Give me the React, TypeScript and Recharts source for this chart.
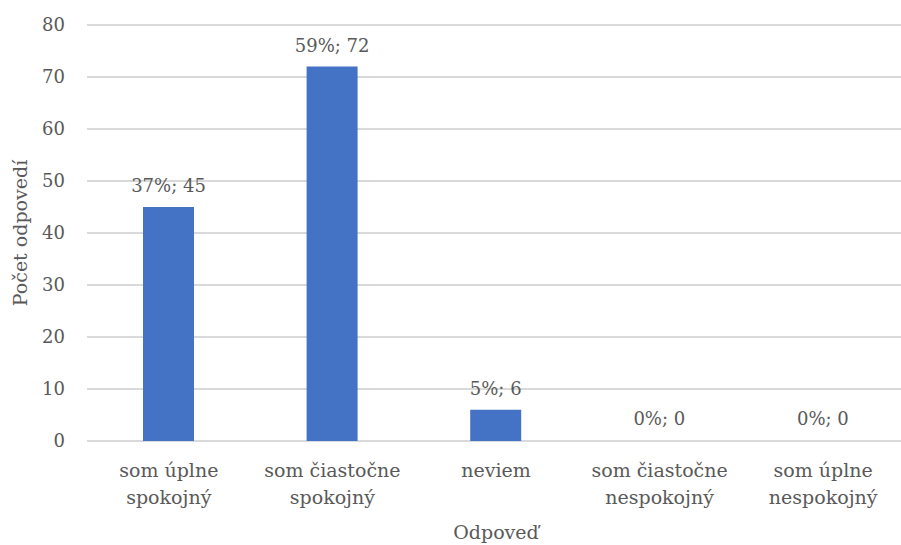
import { BarChart, Bar, XAxis, YAxis, CartesianGrid, LabelList, Rectangle } from "recharts";

const categories = [
    "som úplne spokojný",
    "som čiastočne spokojný",
    "neviem",
    "som čiastočne nespokojný",
    "som úplne nespokojný",
];
const counts = [45, 72, 6, 0, 0];
const percents = [37, 59, 5, 0, 0];
const yTicks = [0, 10, 20, 30, 40, 50, 60, 70, 80];

const data = categories.map((name, i) => ({
    name,
    value: counts[i],
    label: `${percents[i]}%; ${counts[i]}`,
}));

const FONT = "'DejaVu Serif', serif";
const TEXT = "#595959";

function CategoryTick(props: any) {
    const { x, y, payload } = props;
    const text: string = payload.value;
    const cut = text.lastIndexOf(" ");
    const lines = cut > 0 ? [text.slice(0, cut), text.slice(cut + 1)] : [text];
    return (
        <text x={x} y={y} textAnchor="middle" fill={TEXT} fontFamily={FONT} fontSize={19}>
            {lines.map((l, i) => (
                <tspan key={i} x={x} y={y + 28 + i * 27}>{l}</tspan>
            ))}
        </text>
    );
}

// zero bars get minPointSize so their labels show, but draw nothing
function BarShape(props: any) {
    if (!props.value) return <g />;
    return <Rectangle {...props} />;
}

function BarLabel(props: any) {
    const { x, y, width, value } = props;
    return (
        <text x={Number(x) + Number(width) / 2} y={Number(y) - 15} textAnchor="middle"
            fill={TEXT} fontFamily={FONT} fontSize={18}>
            {value}
        </text>
    );
}

function YTitle(props: any) {
    const vb = props.viewBox;
    const cx = vb.x + 20;
    const cy = vb.y + vb.height / 2;
    return (
        <text x={cx} y={cy} transform={`rotate(-90, ${cx}, ${cy})`} textAnchor="middle"
            dominantBaseline="central" fill={TEXT} fontFamily={FONT} fontSize={19}>
            Počet odpovedí
        </text>
    );
}

function XTitle(props: any) {
    const vb = props.viewBox;
    return (
        <text x={vb.x + vb.width / 2} y={vb.y + vb.height - 13} textAnchor="middle"
            dominantBaseline="central" fill={TEXT} fontFamily={FONT} fontSize={19}>
            Odpoveď
        </text>
    );
}

export default function App() {
    return (
        <div style={{ position: "absolute", left: 0, top: 0, width: 901, height: 545, overflow: "hidden", background: "#fff" }}>
            <BarChart width={905} height={545} data={data} margin={{ top: 25, right: 0, bottom: 0, left: 0 }}>
                <CartesianGrid vertical={false} stroke="#d9d9d9" strokeWidth={2} />
                <XAxis
                    dataKey="name"
                    axisLine={false}
                    tickLine={false}
                    height={104}
                    interval={0}
                    tick={<CategoryTick />}
                    label={<XTitle />}
                />
                <YAxis
                    width={87}
                    domain={[0, 80]}
                    ticks={yTicks}
                    axisLine={false}
                    tickLine={false}
                    tickMargin={16}
                    tick={{ fill: TEXT, fontFamily: FONT, fontSize: 18 }}
                    label={<YTitle />}
                />
                <Bar dataKey="value" fill="#4472C4" barSize={51} minPointSize={1}
                    shape={<BarShape />} isAnimationActive={false}>
                    <LabelList dataKey="label" content={<BarLabel />} />
                </Bar>
            </BarChart>
        </div>
    );
}
